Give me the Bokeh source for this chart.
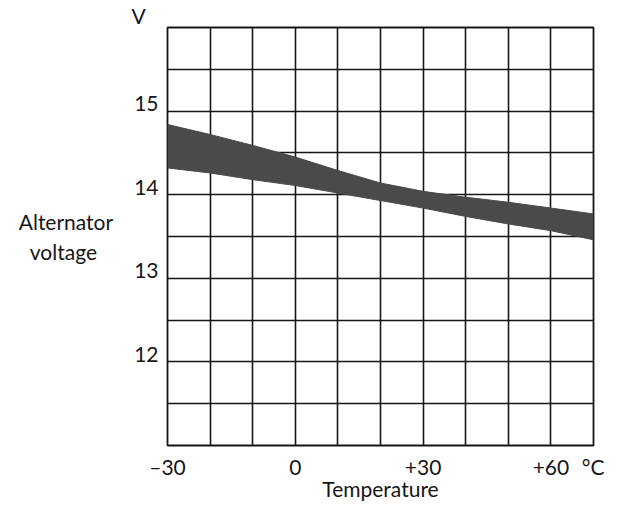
from bokeh.plotting import figure
from bokeh.models import Range1d, FixedTicker, LinearAxis, Title
from bokeh.embed import file_html
from bokeh.resources import INLINE

# Data
temps = [-30, -20, -10, 0, 10, 20, 30, 40, 50, 60, 70]
upper_v = [14.84, 14.72, 14.59, 14.45, 14.29, 14.14, 14.04, 13.97, 13.91, 13.84, 13.77]
lower_v = [14.32, 14.26, 14.18, 14.11, 14.02, 13.93, 13.84, 13.74, 13.65, 13.57, 13.46]

x_ticks = [-30, 0, 30, 60, 70]
x_tick_labels = ["\u201330", "0", "+30", "+60", "\u00b0C"]
y_ticks = [12, 13, 14, 15]
x_grid = [-30, -20, -10, 0, 10, 20, 30, 40, 50, 60, 70]
y_grid = [11, 11.5, 12, 12.5, 13, 13.5, 14, 14.5, 15, 15.5, 16]
y_title = "Alternator\nvoltage\u00a0\u00a0\u00a0"
x_title = "Temperature"
unit_title = "V"

FONT = "Lato"
FS = "21px"
INK = "#161616"

p = figure(width=604, height=503, output_backend="svg", toolbar_location=None,
           x_range=Range1d(-30, 70), y_range=Range1d(11, 16))
p.min_border_left = 167
p.min_border_right = 11
p.min_border_top = 26
p.min_border_bottom = 54
p.background_fill_color = "white"
p.border_fill_color = "white"
p.outline_line_color = INK
p.outline_line_width = 1.8

p.xgrid.ticker = FixedTicker(ticks=x_grid)
p.ygrid.ticker = FixedTicker(ticks=y_grid)
for g in (p.xgrid, p.ygrid):
    g.grid_line_color = INK
    g.grid_line_width = 1.6
    g.grid_line_alpha = 1.0

p.yaxis.visible = False

# tick labels for voltage sit just above their grid lines
shift = 0.09
p.extra_y_ranges = {"lab": Range1d(11 - shift, 16 - shift)}
yax = LinearAxis(y_range_name="lab", ticker=FixedTicker(ticks=y_ticks))
p.add_layout(yax, "left")
yax.axis_label = y_title
yax.axis_label_orientation = "horizontal"
yax.axis_label_standoff = 18

p.xaxis.ticker = FixedTicker(ticks=x_ticks)
p.xaxis.major_label_overrides = {t: s for t, s in zip(x_ticks, x_tick_labels)}
p.xaxis.axis_label = x_title
p.xaxis.axis_label_standoff = -6

for ax in (p.xaxis[0], yax):
    ax.axis_line_color = None
    ax.major_tick_line_color = None
    ax.minor_tick_line_color = None
    ax.major_tick_out = 0
    ax.major_tick_in = 0
    ax.minor_tick_out = 0
    ax.minor_tick_in = 0
    ax.major_label_text_font = FONT
    ax.major_label_text_font_size = FS
    ax.major_label_text_color = INK
    ax.axis_label_text_font = FONT
    ax.axis_label_text_font_size = FS
    ax.axis_label_text_font_style = "normal"
    ax.axis_label_text_color = INK
p.xaxis.major_label_standoff = 8
yax.major_label_standoff = 9

band_color = "#4a4a4a"
p.varea(x=temps, y1=lower_v, y2=upper_v, fill_color=band_color)
p.line(x=temps, y=upper_v, line_color=band_color, line_width=1)
p.line(x=temps, y=lower_v, line_color=band_color, line_width=1)

p.add_layout(Title(text=unit_title, align="left", offset=-36, standoff=0,
                   text_font=FONT, text_font_size="21px", text_font_style="normal",
                   text_color=INK), "above")

open("out.html", "w").write(file_html(p, INLINE))
